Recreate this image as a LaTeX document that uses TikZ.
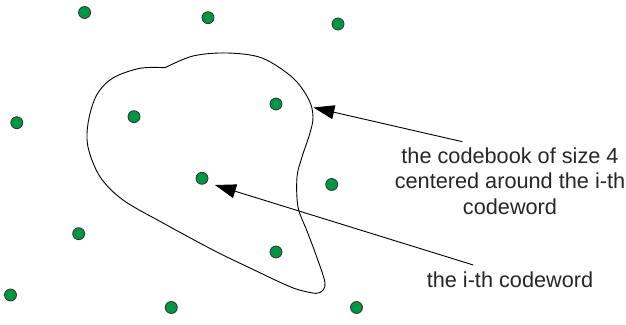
\documentclass[tikz,border=0pt]{standalone}
\usepackage{fontspec}
\setmainfont{Liberation Sans}
\usetikzlibrary{arrows.meta}
\begin{document}
\begin{tikzpicture}[x=0.5pt,y=-0.5pt,
  dot/.style={circle,draw=black!80,line width=0.4pt,fill=green!60!black!90!blue,minimum size=6pt,inner sep=0pt,fill={rgb,255:red,0;green,150;blue,68}},
  blob/.style={line width=0.45pt,black},
  pointer/.style={line width=0.45pt,-{Triangle[length=10.5pt,width=7pt]}},
  lbl/.style={font=\fontsize{10.85}{12.75}\selectfont,align=center,text=black!85}]
\useasboundingbox (0,0) rectangle (626,325);
% codewords
\node[dot] (d1) at (84.6,12.5) {};
\node[dot] (d2) at (208,17.7) {};
\node[dot] (d3) at (338,24) {};
\node[dot] (d4) at (16.8,122.7) {};
\node[dot] (d5) at (134,116.7) {};
\node[dot] (d6) at (276,104) {};
\node[dot] (ci) at (202,178.3) {};
\node[dot] (d8) at (331.7,184.5) {};
\node[dot] (d9) at (78.7,233.7) {};
\node[dot] (d10) at (276,252) {};
\node[dot] (d11) at (10.5,295) {};
\node[dot] (d12) at (171.3,307.5) {};
\node[dot] (d13) at (356.5,307.5) {};
% codebook region
\draw[blob] plot[smooth,tension=0.55] coordinates {
 (165,67.7) (193,56) (227,53) (262,58) (293,78) (309,100) (313,117) (310,133)
 (302,157) (297,177) (298,207) (307,231) (316,255) (325,283) (320,292.5)
 (310,292.5) (290,286.7) (250,268) (213,250) (163,223) (123,200) (100,176.7)
 (88,147) (88.3,121.7) (96.7,95) (113,78) (140,68.3) (165,67.7)};
% labels
\node[lbl] (cb) at (510,181) {the codebook of size 4\\centered around the i-th\\codeword};
\node[lbl] (cw) at (510,280) {the i-th codeword};
% arrows
\coordinate (t1) at (462.3,141.7);
\coordinate (h1) at (313.4,107.5);
\coordinate (t2) at (473.3,265);
\coordinate (h2) at (215,185);
\draw[pointer] (t1) -- (h1);
\draw[pointer] (t2) -- (h2);
\end{tikzpicture}
\end{document}
